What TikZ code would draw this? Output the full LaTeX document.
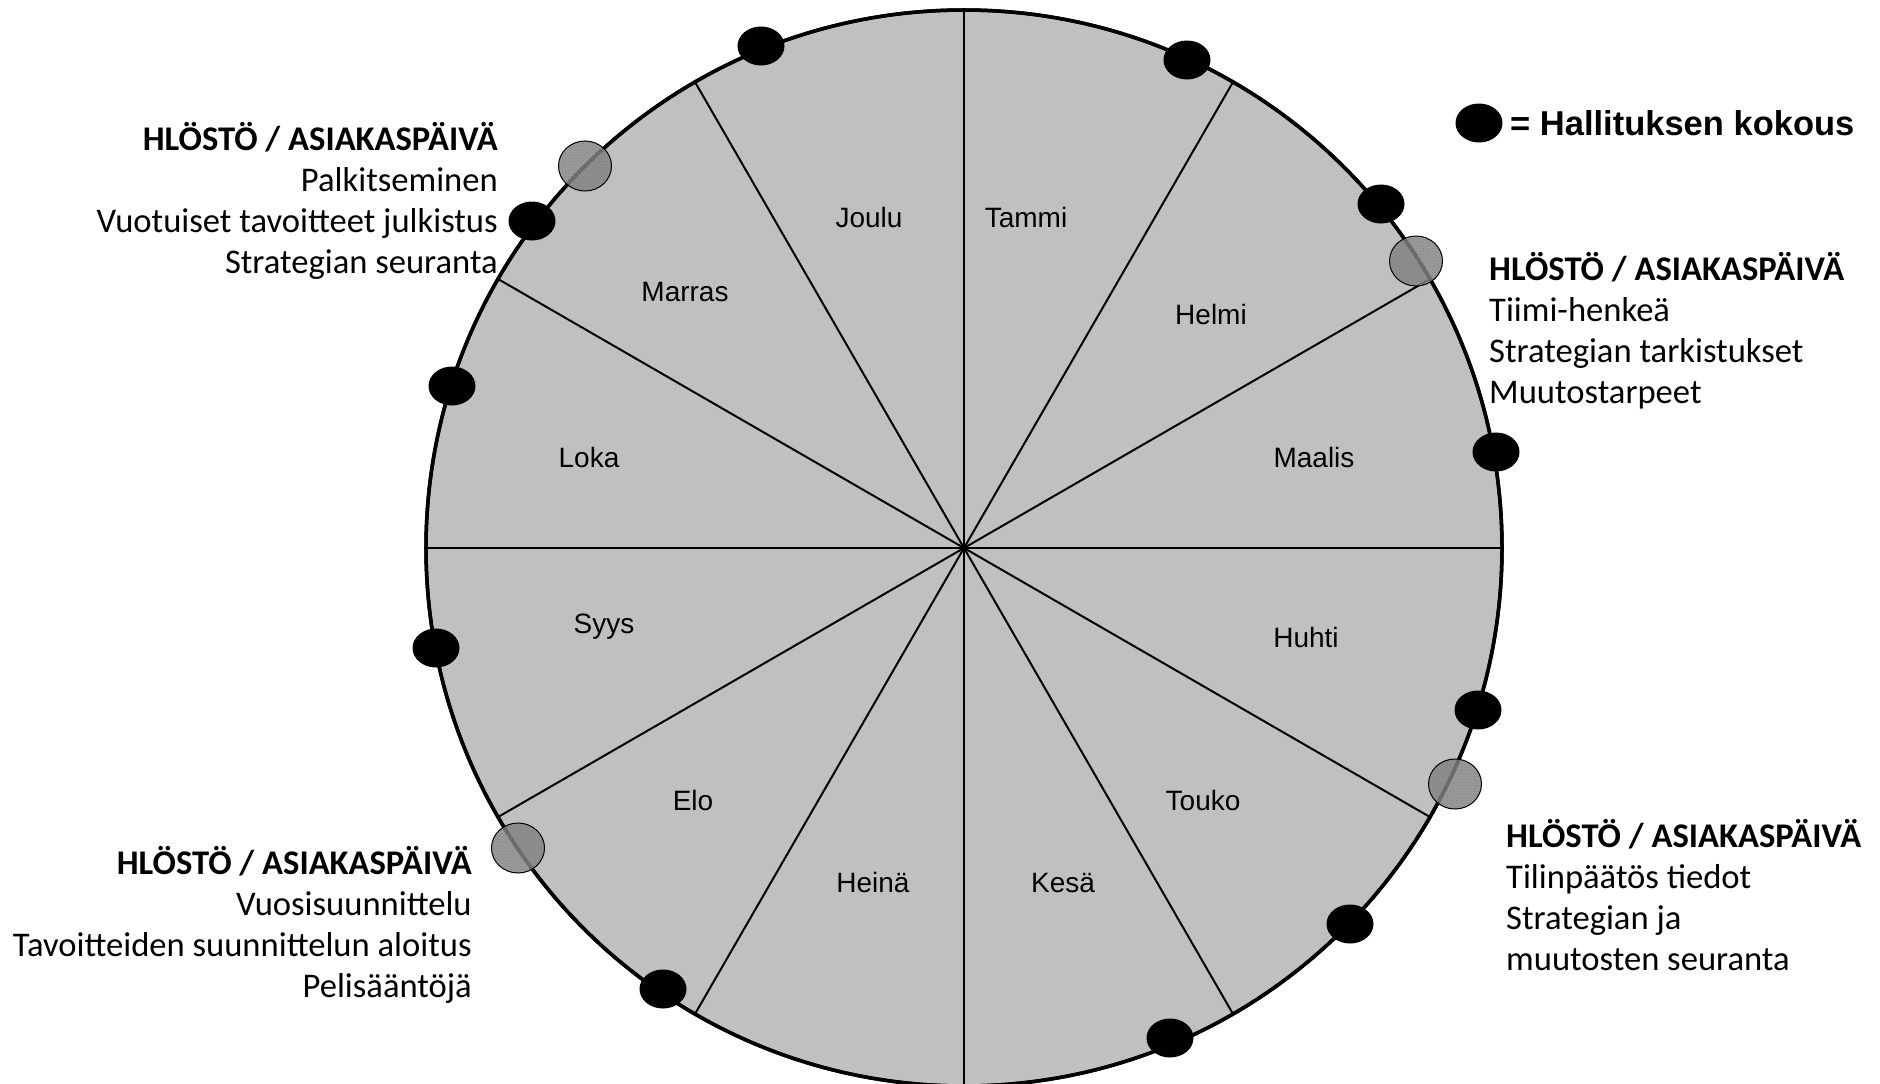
\documentclass[tikz,border=0pt]{standalone}
\usepackage{fontspec}
\setmainfont{Carlito}
\newfontfamily\arialf{Liberation Sans}
\usetikzlibrary{shapes.geometric,patterns}
\definecolor{wheelgray}{RGB}{192,192,192}
\definecolor{hlgray}{RGB}{130,130,130}
\tikzset{
  wheelstyle/.style={circle, draw=black, line width=3.5pt, fill=wheelgray, minimum size=1076pt, inner sep=0pt},
  spoke/.style={draw=black, line width=2pt},
  month/.style={font=\arialf\fontsize{28}{32}\selectfont, inner sep=0pt, anchor=base},
  meet/.style={ellipse, fill=black, minimum width=47pt, minimum height=39pt, inner sep=0pt},
  hlday/.style={ellipse, draw=black, line width=1pt, fill=hlgray, fill opacity=0.8, minimum width=53pt, minimum height=50pt, inner sep=0pt},
  hlhatch/.style={ellipse, pattern=crosshatch dots, pattern color=black!55, minimum width=53pt, minimum height=50pt, inner sep=0pt},
  sidehead/.style={font=\bfseries\fontsize{34.6}{41}\selectfont, inner sep=0pt},
  sidetext/.style={font=\fontsize{34.6}{41}\selectfont, inner sep=0pt},
  legendtext/.style={font=\arialf\bfseries\fontsize{34.5}{40}\selectfont, inner sep=0pt, anchor=base west}
}
\begin{document}
\begin{tikzpicture}[x=1pt,y=-1pt]
\useasboundingbox (0,0) rectangle (1880,1084);
% wheel
\node[wheelstyle] (wheel) at (964,548) {};
\foreach \a in {0,30,...,330} \draw[spoke] (wheel.center) -- (wheel.\a);
\draw[line width=3.5pt] (wheel.center) circle[radius=538pt];
% months
\node[month] (tammi) at (1026,227) {Tammi};
\node[month] (joulu) at (869,227) {Joulu};
\node[month] (helmi) at (1211,324) {Helmi};
\node[month] (marras) at (685,301) {Marras};
\node[month] (maalis) at (1314,467) {Maalis};
\node[month] (loka) at (589,467) {Loka};
\node[month] (huhti) at (1306,647) {Huhti};
\node[month] (syys) at (604,633) {Syys};
\node[month] (touko) at (1203,810) {Touko};
\node[month] (elo) at (693,810) {Elo};
\node[month] (kesa) at (1063,892) {Kesä};
\node[month] (heina) at (873,892) {Heinä};
% staff / customer days
\foreach \n/\p in {g1/{(585,166)}, g2/{(1416,261)}, g3/{(1455,784)}, g4/{(518,848)}} {
  \node[hlhatch] at \p {};
  \node[hlday] (\n) at \p {};
}
% board meetings
\node[meet] (m1) at (761,46) {};
\node[meet] (m2) at (1187,60) {};
\node[meet] (m3) at (1381,204) {};
\node[meet] (m4) at (1496,452) {};
\node[meet] (m5) at (1478,710) {};
\node[meet] (m6) at (1350,924) {};
\node[meet] (m7) at (1170,1038) {};
\node[meet] (m8) at (663,989) {};
\node[meet] (m9) at (436,648) {};
\node[meet] (m10) at (452,386) {};
\node[meet] (m11) at (532,221) {};
% legend
\node[meet] (legdot) at (1479,123) {};
\node[legendtext] (legtext) at (1510,135) {= Hallituksen kokous};
% left top block
\node[sidehead, anchor=base east] (lt0) at (498,150) {HLÖSTÖ / ASIAKASPÄIVÄ};
\node[sidetext, anchor=base east] (lt1) at (498,191) {Palkitseminen};
\node[sidetext, anchor=base east] (lt2) at (498,232) {Vuotuiset tavoitteet julkistus};
\node[sidetext, anchor=base east] (lt3) at (498,273) {Strategian seuranta};
% right top block
\node[sidehead, anchor=base west] (rt0) at (1489,280) {HLÖSTÖ / ASIAKASPÄIVÄ};
\node[sidetext, anchor=base west] (rt1) at (1489,321) {Tiimi-henkeä};
\node[sidetext, anchor=base west] (rt2) at (1489,362) {Strategian tarkistukset};
\node[sidetext, anchor=base west] (rt3) at (1489,403) {Muutostarpeet};
% right bottom block
\node[sidehead, anchor=base west] (rb0) at (1506,847) {HLÖSTÖ / ASIAKASPÄIVÄ};
\node[sidetext, anchor=base west] (rb1) at (1506,888) {Tilinpäätös tiedot};
\node[sidetext, anchor=base west] (rb2) at (1506,929) {Strategian ja};
\node[sidetext, anchor=base west] (rb3) at (1506,970) {muutosten seuranta};
% left bottom block
\node[sidehead, anchor=base east] (lb0) at (472,874) {HLÖSTÖ / ASIAKASPÄIVÄ};
\node[sidetext, anchor=base east] (lb1) at (472,915) {Vuosisuunnittelu};
\node[sidetext, anchor=base east] (lb2) at (472,956) {Tavoitteiden suunnittelun aloitus};
\node[sidetext, anchor=base east] (lb3) at (472,997) {Pelisääntöjä};
\end{tikzpicture}
\end{document}
